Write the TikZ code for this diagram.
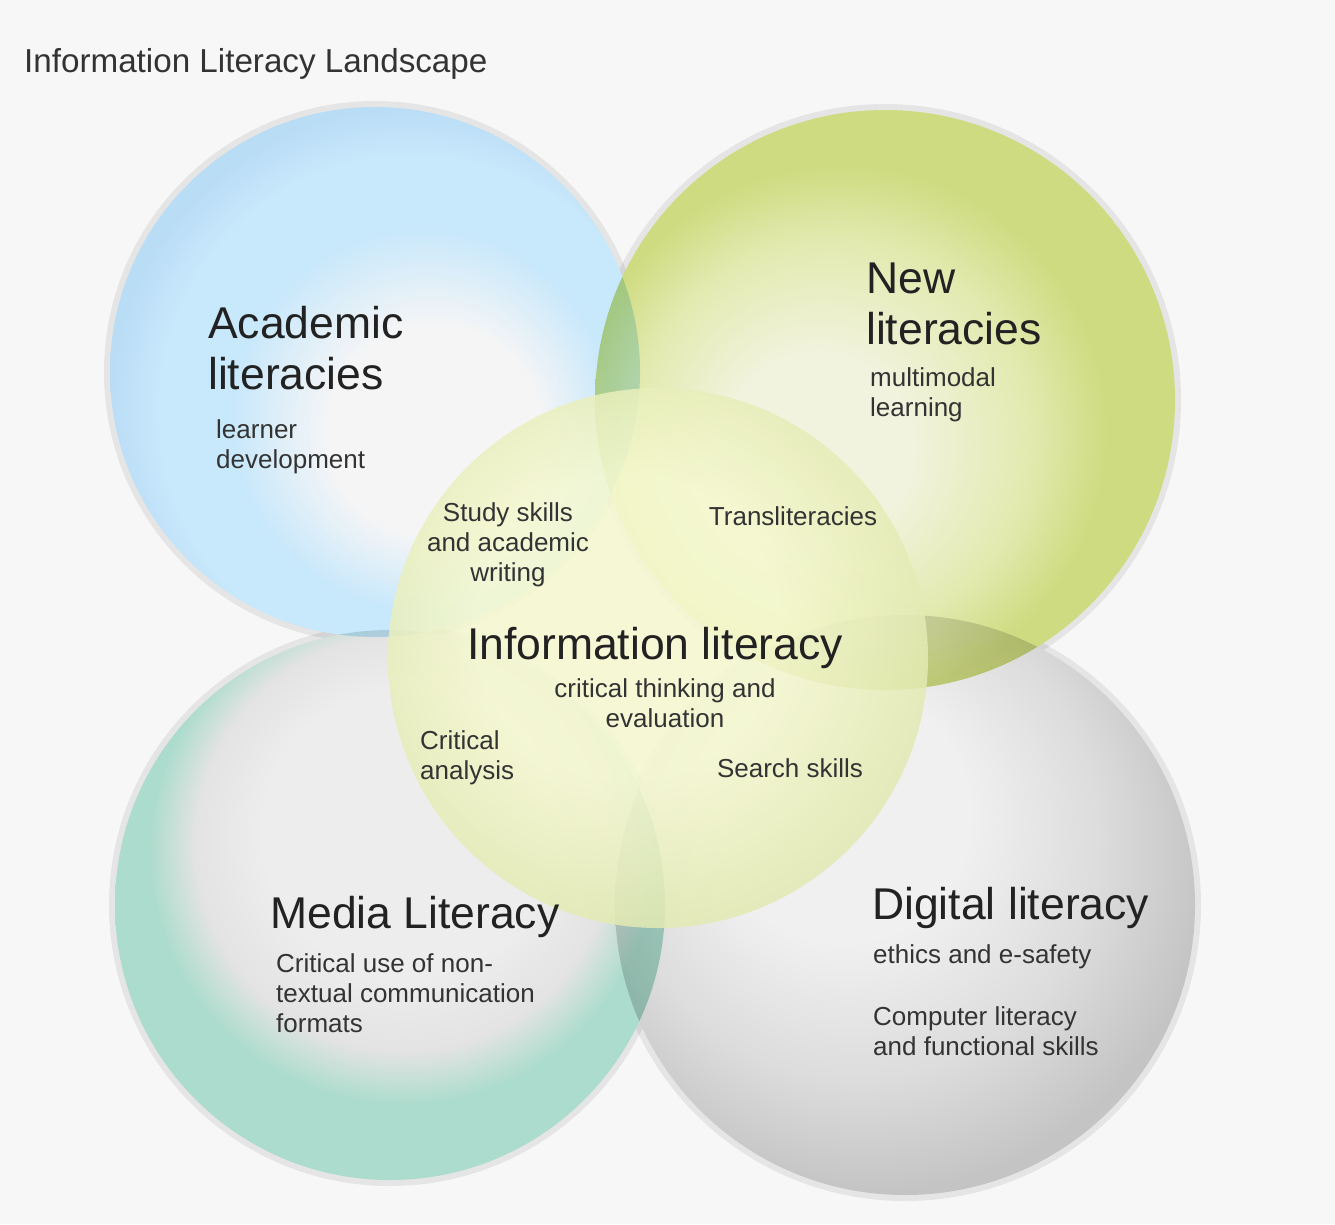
\documentclass[tikz,border=0pt]{standalone}
\usepackage{fontspec}
\setmainfont{Liberation Sans}
\definecolor{bg}{HTML}{F7F7F7}
\definecolor{acIn}{HTML}{F5F5F6}
\definecolor{acMid}{HTML}{C8E8FB}
\definecolor{acOut}{HTML}{BADDF6}
\definecolor{nlIn}{HTML}{F2F3DE}
\definecolor{nlMid}{HTML}{E2EAB0}
\definecolor{nlOut}{HTML}{CFDB80}
\definecolor{mdIn}{HTML}{EDEDED}
\definecolor{mdMid}{HTML}{E2E3E2}
\definecolor{mdOut}{HTML}{ACDCCD}
\definecolor{dgIn}{HTML}{F0F0F0}
\definecolor{dgMid}{HTML}{DCDCDC}
\definecolor{dgOut}{HTML}{C4C4C4}
\definecolor{ilIn}{HTML}{F6F9D0}
\definecolor{ilOut}{HTML}{E3EAB2}
\definecolor{txt}{HTML}{222222}
\definecolor{txtS}{HTML}{333333}
% highlights offset towards the centre of the diagram
\pgfdeclareradialshading{acadsh}{\pgfpoint{7bp}{-7bp}}{color(0bp)=(acIn); color(10bp)=(acIn); color(18bp)=(acMid); color(24bp)=(acMid); color(28bp)=(acOut); color(50bp)=(acOut)}
\pgfdeclareradialshading{newsh}{\pgfpoint{-7bp}{-5bp}}{color(0bp)=(nlIn); color(8bp)=(nlIn); color(17bp)=(nlMid); color(23bp)=(nlOut); color(28bp)=(nlOut); color(50bp)=(nlOut)}
\pgfdeclareradialshading{medsh}{\pgfpoint{2bp}{9bp}}{color(0bp)=(mdIn); color(13bp)=(mdIn); color(19bp)=(mdMid); color(23bp)=(mdOut); color(28bp)=(mdOut); color(50bp)=(mdOut)}
\pgfdeclareradialshading{digsh}{\pgfpoint{-7bp}{10bp}}{color(0bp)=(dgIn); color(11bp)=(dgIn); color(21bp)=(dgMid); color(29bp)=(dgOut); color(50bp)=(dgOut)}
\pgfdeclareradialshading{infsh}{\pgfpoint{-4bp}{4bp}}{color(0bp)=(ilIn); color(14bp)=(ilIn); color(27bp)=(ilOut); color(50bp)=(ilOut)}
\tikzset{
  halo/.style={fill=black, fill opacity=0.07},
  head/.style={inner sep=0pt, text=txt, font=\fontsize{44.5}{51}\selectfont, align=left},
  small/.style={inner sep=0pt, text=txtS, font=\fontsize{26}{30}\selectfont, align=left},
  smallc/.style={small, align=center},
}
\begin{document}
\begin{tikzpicture}[x=1pt,y=-1pt]
\useasboundingbox (0,0) rectangle (1335,1224);
\fill[bg] (0,0) rectangle (1335,1224);
% soft halos
\fill[halo] (905,905) circle[radius=296pt];
\fill[halo] (390,905) circle[radius=281pt];
\fill[halo] (375,372) circle[radius=271pt];
\fill[halo] (885,400) circle[radius=296pt];
% main circles
\begin{scope}[blend group=multiply]
\shade[shading=digsh] (905,905) circle[radius=290pt];
\shade[shading=medsh] (390,905) circle[radius=275pt];
\shade[shading=acadsh] (375,372) circle[radius=265pt];
\shade[shading=newsh] (885,400) circle[radius=290pt];
\end{scope}
% central circle
\shade[shading=infsh, opacity=0.85] (658,658) circle[radius=270pt];
% title
\node[inner sep=0pt, anchor=west, text=txtS, font=\fontsize{33.2}{38}\selectfont] (title) at (24,64) {Information Literacy Landscape};
% academic
\node[head, anchor=west] (acad) at (208,348) {Academic\\literacies};
\node[small, anchor=west] (learner) at (216,447) {learner\\development};
% new literacies
\node[head, anchor=west] (newlit) at (866,304) {New\\literacies};
\node[small, anchor=west] (multi) at (870,395) {multimodal\\learning};
\node[small, anchor=center] (trans) at (793,516) {Transliteracies};
% info literacy
\node[smallc, anchor=center] (study) at (508,545) {Study skills\\and academic\\writing};
\node[head, anchor=center] (info) at (655,648) {Information literacy};
\node[smallc, anchor=center] (crit) at (665,703) {critical thinking and\\evaluation};
\node[small, anchor=west] (analysis) at (420,758) {Critical\\analysis};
\node[small, anchor=center] (search) at (790,768) {Search skills};
% media
\node[head, anchor=west] (media) at (270,917) {Media Literacy};
\node[small, anchor=west] (use) at (276,993) {Critical use of non-\\textual communication\\formats};
% digital
\node[head, anchor=west] (digital) at (872,908) {Digital literacy};
\node[small, anchor=west] (ethics) at (873,957) {ethics and e-safety};
\node[small, anchor=west] (comp) at (873,1031) {Computer literacy\\and functional skills};
\end{tikzpicture}
\end{document}
